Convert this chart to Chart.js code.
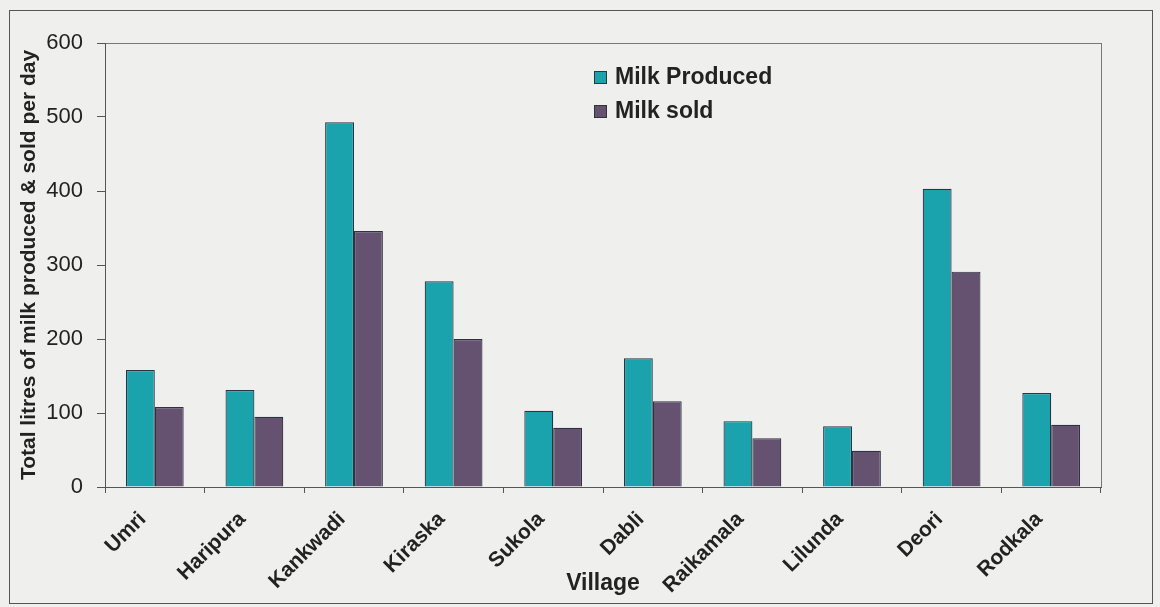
<!DOCTYPE html>
<html>
<head>
<meta charset="utf-8">
<script src="https://cdn.jsdelivr.net/npm/chart.js@4.4.0/dist/chart.umd.min.js"></script>
<style>
  html, body { margin: 0; padding: 0; background: #efefed; }
  #wrap { width: 1160px; height: 607px; position: relative; }
</style>
</head>
<body>
<div id="wrap"><canvas id="milkChart" width="1160" height="607"></canvas></div>
<script>
const villages = ['Umri', 'Haripura', 'Kankwadi', 'Kiraska', 'Sukola', 'Dabli', 'Raikamala', 'Lilunda', 'Deori', 'Rodkala'];
const milkProduced = [158, 131, 493, 278, 103, 174, 89, 82, 403, 127];
const milkSold = [108, 95, 346, 200, 80, 116, 66, 49, 291, 84];
const yTicks = [0, 100, 200, 300, 400, 500, 600];

const FONT = '"Liberation Sans", Arial, sans-serif';

// frame round the whole picture and round the plot area
const framePlugin = {
  id: 'frame',
  beforeDraw(chart) {
    const ctx = chart.ctx;
    const a = chart.chartArea;
    ctx.save();
    ctx.strokeStyle = '#555';
    ctx.lineWidth = 1;
    ctx.strokeRect(9.5, 10.5, 1143, 593);
    ctx.strokeStyle = '#777';
    ctx.strokeRect(a.left + 0.5, a.top + 0.5, a.right - a.left, a.bottom - a.top);
    ctx.restore();
  }
};

// legend drawn inside the plot, like the original
const legendPlugin = {
  id: 'boxLegend',
  afterDraw(chart) {
    const ctx = chart.ctx;
    ctx.save();
    ctx.font = 'bold 23px ' + FONT;
    ctx.textBaseline = 'middle';
    chart.data.datasets.forEach((ds, i) => {
      const x = 594, y = 77 + i * 34;
      ctx.fillStyle = ds.backgroundColor;
      ctx.fillRect(x, y - 6, 12, 12);
      ctx.strokeStyle = '#333';
      ctx.strokeRect(x + 0.5, y - 5.5, 12, 12);
      ctx.fillStyle = '#222';
      ctx.fillText(ds.label, x + 21, y + 1);
    });
    ctx.restore();
  }
};

new Chart(document.getElementById('milkChart'), {
  type: 'bar',
  data: {
    labels: villages,
    datasets: [
      { label: 'Milk Produced', data: milkProduced, backgroundColor: '#1aa3ac', borderColor: '#2d3340', borderWidth: 1.2 },
      { label: 'Milk sold', data: milkSold, backgroundColor: '#655270', borderColor: '#2d3340', borderWidth: 1.2 }
    ]
  },
  options: {
    responsive: false,
    animation: false,
    layout: { padding: { left: 17, right: 59, top: 43, bottom: 10 } },
    datasets: { bar: { categoryPercentage: 0.58, barPercentage: 1.0 } },
    plugins: {
      legend: { display: false },
      tooltip: { enabled: false }
    },
    scales: {
      x: {
        afterFit(scale) { scale.height = 110; },
        grid: { offset: true, drawOnChartArea: false, drawTicks: true, tickLength: 6, color: '#555' },
        border: { color: '#555' },
        ticks: {
          minRotation: 45, maxRotation: 45,
          padding: 14,
          labelOffset: -12,
          color: '#222',
          font: { family: FONT, size: 21, weight: 'bold' }
        },
        title: {
          display: true, text: 'Village', color: '#222',
          font: { family: FONT, size: 23, weight: 'bold' },
          padding: { top: 0, bottom: 0 }
        }
      },
      y: {
        min: 0, max: 600,
        afterFit(scale) { scale.width = 88; },
        afterBuildTicks(scale) { scale.ticks = yTicks.map(v => ({ value: v })); },
        grid: { drawOnChartArea: false, drawTicks: true, tickLength: 8, color: '#555' },
        border: { color: '#555' },
        ticks: {
          color: '#222',
          padding: 14,
          font: { family: FONT, size: 22 }
        },
        title: {
          display: true, text: 'Total litres of milk produced & sold per day', color: '#222',
          font: { family: FONT, size: 21, weight: 'bold' },
          padding: { top: 0, bottom: 0 }
        }
      }
    }
  },
  plugins: [framePlugin, legendPlugin]
});
</script>
</body>
</html>
